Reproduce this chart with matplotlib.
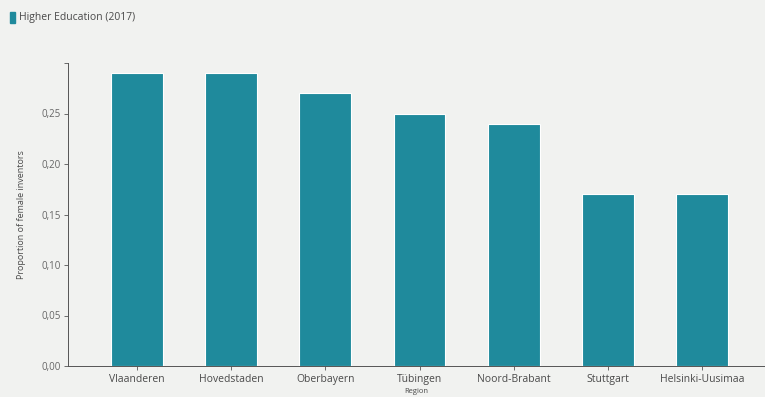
import matplotlib
matplotlib.use("Agg")
import matplotlib.pyplot as plt

regions = ["Vlaanderen", "Hovedstaden", "Oberbayern", "Tübingen", "Noord-Brabant", "Stuttgart", "Helsinki-Uusimaa"]
values = [0.29, 0.29, 0.27, 0.25, 0.24, 0.17, 0.17]
yticks = [0.00, 0.05, 0.10, 0.15, 0.20, 0.25, 0.30]
ytick_labels = ["0,00", "0,05", "0,10", "0,15", "0,20", "0,25", ""]
series_name = "Higher Education (2017)"

plt.rcParams['font.family'] = ['Open Sans', 'DejaVu Sans']
bg = "#f1f2f0"
bar_color = "#1f8a9c"
text_color = "#4a4a4a"

fig = plt.figure(figsize=(7.65, 3.97), dpi=100, facecolor=bg)
ax = fig.add_axes([68/765, 31/397, 1 - 68/765, (366-63)/397])
ax.set_facecolor(bg)

x = list(range(len(regions)))
ax.bar(x, values, width=0.55, color=bar_color, edgecolor="white", linewidth=0.8, zorder=2)

ax.set_xlim(-0.732, 6.667)
ax.set_ylim(0, 0.30)
ax.set_yticks(yticks)
ax.set_yticklabels(ytick_labels, fontsize=7, color="#666666")
ax.set_xticks(x)
ax.set_xticklabels(regions, fontsize=7.5, color=text_color)
ax.tick_params(axis='y', length=3, width=0.6, color="#555555", pad=2)
ax.tick_params(axis='x', length=3, width=0.6, color="#555555", pad=3)

for s in ["top", "right"]:
    ax.spines[s].set_visible(False)
for s in ["left", "bottom"]:
    ax.spines[s].set_color("#555555")
    ax.spines[s].set_linewidth(0.7)

ax.set_ylabel("Proportion of female inventors", fontsize=6.5, color=text_color, labelpad=11)
ax.set_xlabel("Region", fontsize=5.5, color=text_color, labelpad=2)

# legend
fig.patches.append(plt.Rectangle((10/765, 1 - 23/397), 5/765, 11/397, transform=fig.transFigure,
                                 color=bar_color, figure=fig))
fig.text(19/765, 1 - 17.5/397, series_name, fontsize=7.5, color=text_color, va="center", ha="left")

fig.savefig("out.png", dpi=100, facecolor=bg)
